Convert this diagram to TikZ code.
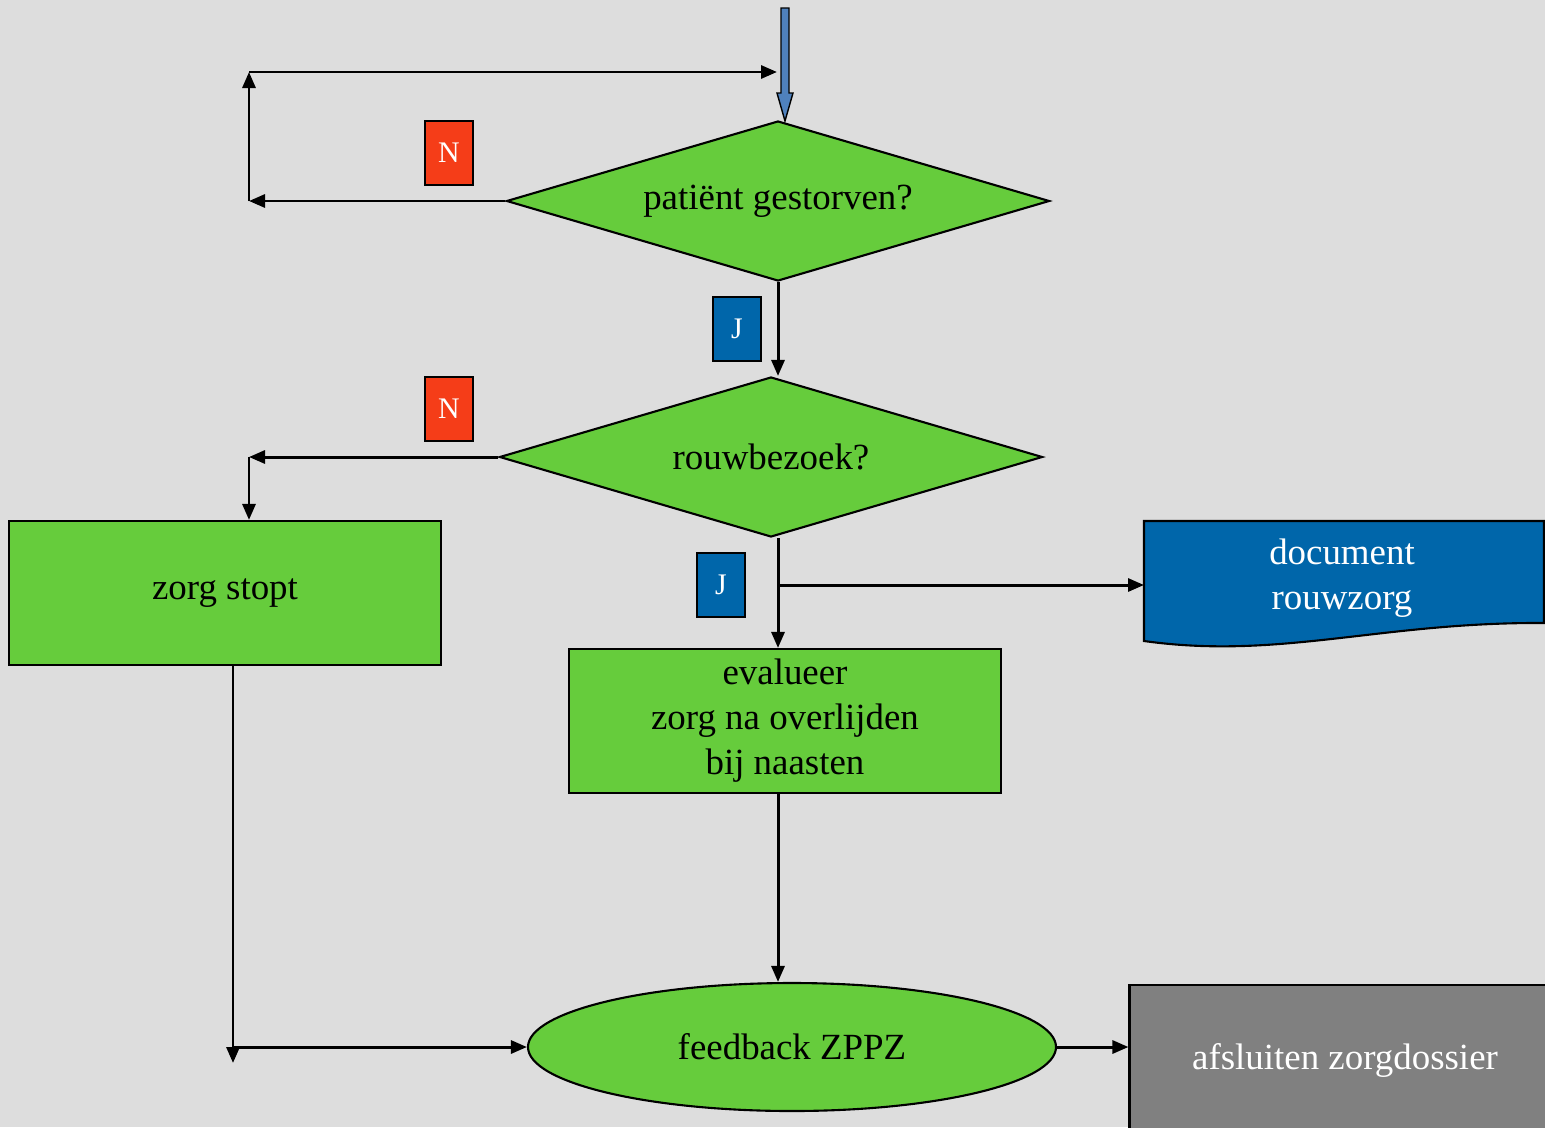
\documentclass[tikz,border=0pt]{standalone}
\usepackage{fontspec}
\setmainfont{Liberation Serif}
\usetikzlibrary{shapes.geometric,arrows.meta}
\definecolor{achtergrond}{HTML}{DDDDDD}
\definecolor{groen}{HTML}{66CC3C}
\definecolor{rood}{HTML}{F53D18}
\definecolor{blauw}{HTML}{0066AA}
\definecolor{startblauw}{HTML}{4F81BD}
\definecolor{grijs}{HTML}{808080}
\begin{document}
\begin{tikzpicture}[x=0.2mm,y=-0.2mm,>={Triangle[length=3.2mm,width=2.6mm]}]
        \tikzset{tekst/.style={font=\fontsize{21}{25.6}\selectfont,align=center},
                 stap/.style={tekst,draw,line width=1.2pt,fill=groen,inner sep=0pt,minimum width=86.4mm,minimum height=28.8mm},
                 vraag/.style={tekst,diamond,aspect=3.39,draw,line width=1.2pt,fill=groen,inner sep=0pt,minimum width=108.6mm,minimum height=32mm},
                 nee/.style={draw,line width=1.2pt,fill=rood,text=white,font=\fontsize{17}{20}\selectfont,inner sep=0pt,minimum width=9.6mm,minimum height=12.8mm},
                 ja/.style={nee,fill=blauw},
                 pijl/.style={->,line width=1.7pt}}
        \fill[achtergrond] (0,0) rectangle (1545,1127);
        \useasboundingbox (0,0) rectangle (1545,1127);
        % knopen
        \node[vraag] (gestorven) at (778,201) {patiënt gestorven?};
        \node[vraag] (rouw) at (771,457) {rouwbezoek?};
        \node[stap] (stopt) at (225,593) {zorg stopt};
        \node[stap] (evalueer) at (785,721) {evalueer\\zorg na overlijden\\bij naasten};
        \node[tekst,ellipse,draw,line width=1.2pt,fill=groen,inner sep=0pt,minimum width=105.6mm,minimum height=25.6mm] (feedback) at (792,1047) {feedback ZPPZ};
        \node[tekst,draw,line width=1.2pt,fill=grijs,text=white,minimum width=86.2mm,minimum height=30mm] (afsluiten) at (1345,1060) {afsluiten zorgdossier};
        \draw[line width=1.2pt,fill=blauw] (1144,521) -- (1544,521) -- (1544,623) .. controls (1380,622) and (1280,660) .. (1144,641) -- cycle;
        \node[tekst,text=white] (document) at (1342,578) {document\\rouwzorg};
        \node[nee] (n1) at (449,153) {N};
        \node[nee] (n2) at (449,409) {N};
        \node[ja] (j1) at (737,329) {J};
        \node[ja] (j2) at (721,585) {J};
        % hulppunten
        \coordinate (lus1) at (249,201);
        \coordinate (lus2) at (249,72);
        \coordinate (lus3) at (777,72);
        \coordinate (links) at (249,457);
        \coordinate (splits) at (778,585);
        \coordinate (docin) at (1144,585);
        \coordinate (hoek) at (233,1047);
        \coordinate (eind) at (233,1063);
        % start
        \draw[line width=0.8pt,fill=startblauw] (781,8) -- (789,8) -- (789,93) -- (793,93) -- (785,121) -- (777,93) -- (781,93) -- cycle;
        % pijlen
        \draw[pijl] (gestorven.west) -- (lus1);
        \draw[pijl] (lus1) -- (lus2);
        \draw[pijl] (lus2) -- (lus3);
        \draw[pijl] (gestorven.south) -- (gestorven.south |- rouw.north);
        \draw[pijl] (rouw.west) -- (links);
        \draw[pijl] (links) -- (links |- stopt.north);
        \draw[pijl] (gestorven.south |- rouw.south) -- (gestorven.south |- evalueer.north);
        \draw[pijl] (splits) -- (docin);
        \draw[pijl] (evalueer.south -| splits) -- (feedback.north -| splits);
        \draw[pijl] (stopt.south -| eind) -- (eind);
        \draw[pijl] (hoek) -- (hoek -| feedback.west);
        \draw[pijl] (feedback.east) -- (feedback.east -| afsluiten.west);
\end{tikzpicture}
\end{document}
